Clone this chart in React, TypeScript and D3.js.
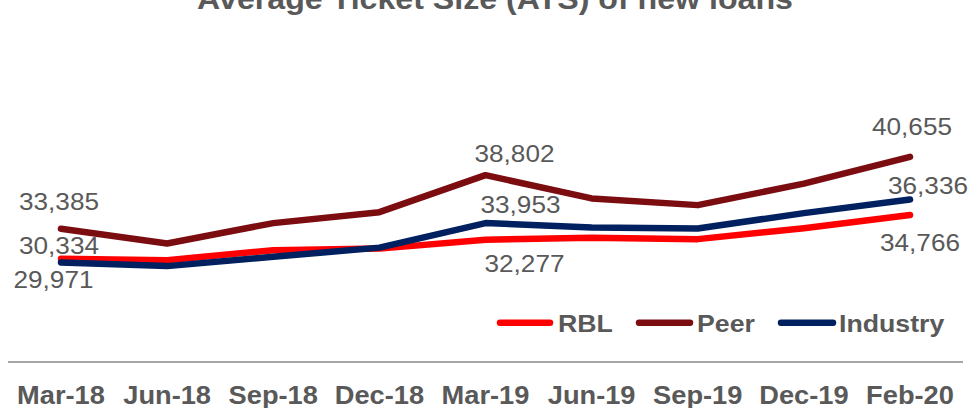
import React from "react";
import * as d3 from "d3";

const categories = ["Mar-18", "Jun-18", "Sep-18", "Dec-18", "Mar-19", "Jun-19", "Sep-19", "Dec-19", "Feb-20"];
const rblValues = [30334, 30200, 31215, 31370, 32277, 32460, 32330, 33440, 34766];
const peerValues = [33385, 31890, 33950, 35060, 38802, 36450, 35770, 37940, 40655];
const industryValues = [29971, 29600, 30540, 31470, 33953, 33510, 33410, 34960, 36336];
const seriesNames = ["RBL", "Peer", "Industry"];
const labelledIndices = [0, 4, 8];

const W = 974;
const H = 408;
const FONT = "'Liberation Sans', Arial, Helvetica, sans-serif";
const TEXT = "#595959";
const SX = 1.09;

const colors = ["#FF0000", "#7B0C10", "#002060"];
const seriesValues = [rblValues, peerValues, industryValues];

// label offsets [dx, dy] relative to point, per series per labelled index
const labelOffsets: Record<string, [number, number][]> = {
  RBL: [[-2, -4.5], [39, 32], [10, 36]],
  Peer: [[-2, -19], [29, -13.5], [2, -21.7]],
  Industry: [[-7.5, 25.6], [35, -10], [18, -6]],
};

const legendLayout = [
  { x1: 500, x2: 550, tx: 558 },
  { x1: 639, x2: 690, tx: 697 },
  { x1: 781, x2: 833, tx: 839 },
];

export default function App() {
  const x = d3.scalePoint<string>().domain(categories).range([61, 910]);
  const y = d3.scaleLinear().domain([20000, 45000]).range([361, 113.9]);
  const line = d3
    .line<number>()
    .x((_, i) => x(categories[i]) as number)
    .y((d) => y(d));

  const fmt = d3.format(",");

  const txt = (
    key: string,
    tx: number,
    ty: number,
    s: string,
    size: number,
    weight: string,
    anchor: string
  ) => (
    <text
      key={key}
      transform={`translate(${tx},${ty}) scale(${SX},1)`}
      textAnchor={anchor as any}
      fontFamily={FONT}
      fontSize={size}
      fontWeight={weight}
      fill={TEXT}
    >
      {s}
    </text>
  );

  return (
    <svg
      width={W}
      height={H}
      style={{ position: "absolute", left: 0, top: 0, background: "#fff" }}
    >
      {txt("title", 495, 8.5, "Average  Ticket Size  (ATS) of new loans", 29.5, "bold", "middle")}

      {seriesValues.map((vals, si) => (
        <path
          key={seriesNames[si]}
          d={line(vals) || ""}
          fill="none"
          stroke={colors[si]}
          strokeWidth={6.5}
          strokeLinejoin="round"
          strokeLinecap="round"
        />
      ))}

      {seriesValues.map((vals, si) =>
        labelledIndices.map((idx, li) => {
          const [dx, dy] = labelOffsets[seriesNames[si]][li];
          const px = x(categories[idx]) as number;
          const py = y(vals[idx]);
          return txt(`${si}-${idx}`, px + dx, py + dy, fmt(vals[idx]), 24, "normal", "middle");
        })
      )}

      {seriesNames.map((name, si) => (
        <g key={name}>
          <line
            x1={legendLayout[si].x1}
            x2={legendLayout[si].x2}
            y1={322.7}
            y2={322.7}
            stroke={colors[si]}
            strokeWidth={6.5}
            strokeLinecap="round"
          />
          {txt(`lg-${name}`, legendLayout[si].tx, 332, name, 24.5, "bold", "start")}
        </g>
      ))}

      <line x1={8} x2={963} y1={362} y2={362} stroke="#A6A6A6" strokeWidth={2} />

      {categories.map((c) => txt(`x-${c}`, x(c) as number, 404, c, 25, "bold", "middle"))}
    </svg>
  );
}
